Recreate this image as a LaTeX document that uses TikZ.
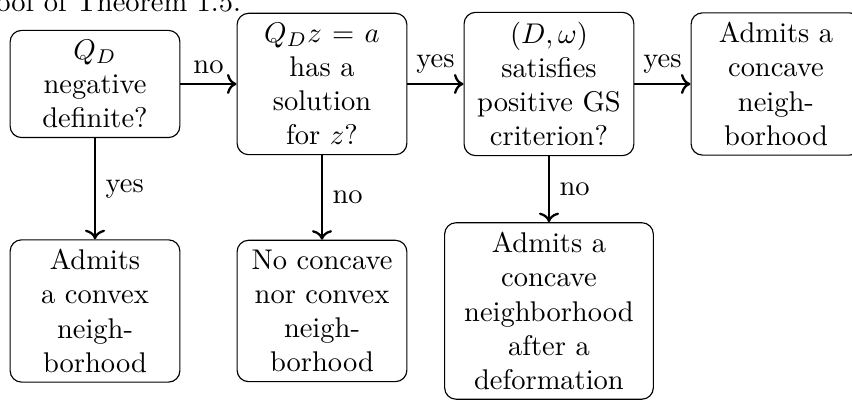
\documentclass[tikz,border=0pt]{standalone}
\usepackage{amsmath,amssymb}
\usepackage{tikz}
\usetikzlibrary{arrows.meta,positioning}

\begin{document}
\begin{tikzpicture}[
  box/.style={rectangle, rounded corners=4pt, draw, thin,
              text width=1.86cm, align=center, inner sep=3.33pt},
  wide/.style={box, text width=2.34cm},
  arr/.style={->, thick}
]
\useasboundingbox (-1.172,1.036) rectangle (9.338,-3.886);
\clip (-1.172,1.036) rectangle (9.338,-3.886);

% text of the page above the figure
\node[anchor=base west, inner sep=0pt] (title) at (-1.60,0.90) {Proof of Theorem 1.5.};

% questions
\node[box] (d1) at (0,0)     {$Q_D$\\ negative\\ definite?};
\node[box] (d2) at (2.8,0)   {$Q_Dz=a$\\ has a\\ solution\\ for $z$?};
\node[box] (d3) at (5.6,0)   {$(D,\omega)$\\ satisfies\\ positive GS\\ criterion?};

% outcomes
\node[box] (r4) at (8.4,0)   {Admits a\\ concave\\ neigh-\\ borhood};
\node[box] (r1) at (0,-2.8)  {Admits\\ a convex\\ neigh-\\ borhood};
\node[box] (r2) at (2.8,-2.8) {No concave\\ nor convex\\ neigh-\\ borhood};
\node[wide] (r3) at (5.6,-2.8) {Admits a\\ concave\\ neighborhood\\ after a\\ deformation};

\draw[arr] (d1) -- node[midway, above] {no} (d2);
\draw[arr] (d2) -- node[midway, above] {yes} (d3);
\draw[arr] (d3) -- node[midway, above] {yes} (r4);
\draw[arr] (d1) -- node[midway, right] {yes} (r1);
\draw[arr] (d2) -- node[midway, right] {no} (r2);
\draw[arr] (d3) -- node[midway, right] {no} (r3);
\end{tikzpicture}
\end{document}
